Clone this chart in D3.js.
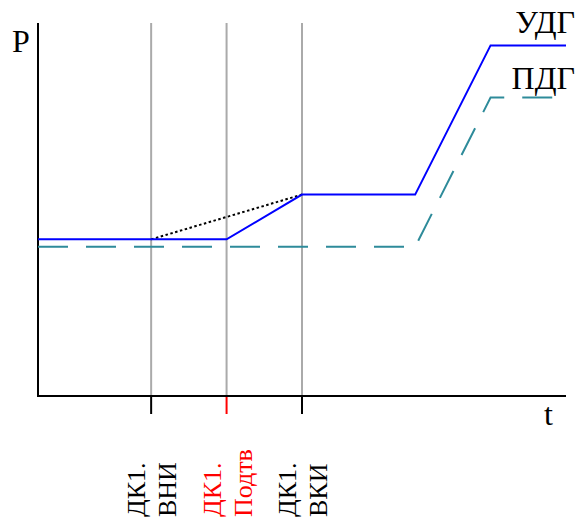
<!DOCTYPE html>
<html>
<head>
<meta charset="utf-8">
<script src="https://cdn.jsdelivr.net/npm/d3@7"></script>
<style>
  body { margin: 0; background: #fff; }
</style>
</head>
<body>
<script>
const width = 580,
  height = 524;

// time points of the plot
const udgT = [0, 5, 7, 10, 12, 14];
const udgP = [4.2, 4.2, 5.4, 5.4, 9.4, 9.4];
const pdgT = [0, 10, 12, 14];
const pdgP = [4.0, 4.0, 8.0, 8.0];
const guessT = [3, 7];
const guessP = [4.2, 5.4];

const markT = [3, 5, 7];
const markLines = [['ДК1.', 'ВНИ'], ['ДК1.', 'Подтв'], ['ДК1.', 'ВКИ']];
const markColors = ['#000', '#f00', '#000'];

const serif = "'Liberation Serif', 'Times New Roman', Times, serif";

const x = d3.scaleLinear().domain([0, 14]).range([38, 566]);
const y = d3.scaleLinear().domain([0, 10]).range([396, 23]);

const svg = d3.select('body').append('svg')
  .attr('width', width)
  .attr('height', height)
  .attr('font-family', serif);

const line = d3.line()
  .x((d) => x(d[0]))
  .y((d) => y(d[1]));

// vertical grey markers
svg.selectAll('.vline')
  .data(markT)
  .enter().append('line')
    .attr('x1', (d) => x(d)).attr('x2', (d) => x(d))
    .attr('y1', y(10)).attr('y2', y(0))
    .attr('stroke', '#aaa')
    .attr('stroke-width', 2);

// ticks below axis
svg.selectAll('.tick')
  .data(markT)
  .enter().append('line')
    .attr('x1', (d) => x(d)).attr('x2', (d) => x(d))
    .attr('y1', y(0)).attr('y2', y(0) + 18)
    .attr('stroke', (d, i) => markColors[i])
    .attr('stroke-width', 2);

// axes
svg.append('line')
  .attr('x1', x(0)).attr('x2', x(0))
  .attr('y1', y(10)).attr('y2', y(0) + 1)
  .attr('stroke', '#000').attr('stroke-width', 2);
svg.append('line')
  .attr('x1', x(0)).attr('x2', x(14))
  .attr('y1', y(0)).attr('y2', y(0))
  .attr('stroke', '#000').attr('stroke-width', 2);

svg.append('path')
  .datum(d3.zip(pdgT, pdgP))
  .attr('d', line)
  .attr('fill', 'none')
  .attr('stroke', '#2e8b9a')
  .attr('stroke-width', 2)
  .attr('stroke-dasharray', '30,18');

svg.append('path')
  .datum(d3.zip(guessT, guessP))
  .attr('d', line)
  .attr('fill', 'none')
  .attr('stroke', '#000')
  .attr('stroke-width', 2)
  .attr('stroke-dasharray', '2.5,2.5');

svg.append('path')
  .datum(d3.zip(udgT, udgP))
  .attr('d', line)
  .attr('fill', 'none')
  .attr('stroke', '#00f')
  .attr('stroke-width', 2);

svg.append('text')
  .attr('x', 12).attr('y', 52)
  .attr('font-size', 32)
  .text('P');

svg.append('text')
  .attr('x', 544).attr('y', 425)
  .attr('font-size', 32)
  .text('t');

svg.append('text')
  .attr('x', 575).attr('y', y(9.4) - 12)
  .attr('text-anchor', 'end')
  .attr('font-size', 32)
  .text('УДГ');

svg.append('text')
  .attr('x', 575).attr('y', y(8.0) - 9)
  .attr('text-anchor', 'end')
  .attr('font-size', 32)
  .text('ПДГ');

// rotated labels under the ticks
const lab = svg.selectAll('.lab')
  .data(markT)
  .enter().append('text')
    .attr('transform', (d) => `translate(${x(d)},517) rotate(-90)`)
    .attr('font-size', 26)
    .attr('fill', (d, i) => markColors[i]);

lab.selectAll('tspan')
  .data((d, i) => markLines[i])
  .enter().append('tspan')
    .attr('x', 0)
    .attr('y', (d, i) => i === 0 ? -6 : 25)
    .text((d) => d);
</script>
</body>
</html>
